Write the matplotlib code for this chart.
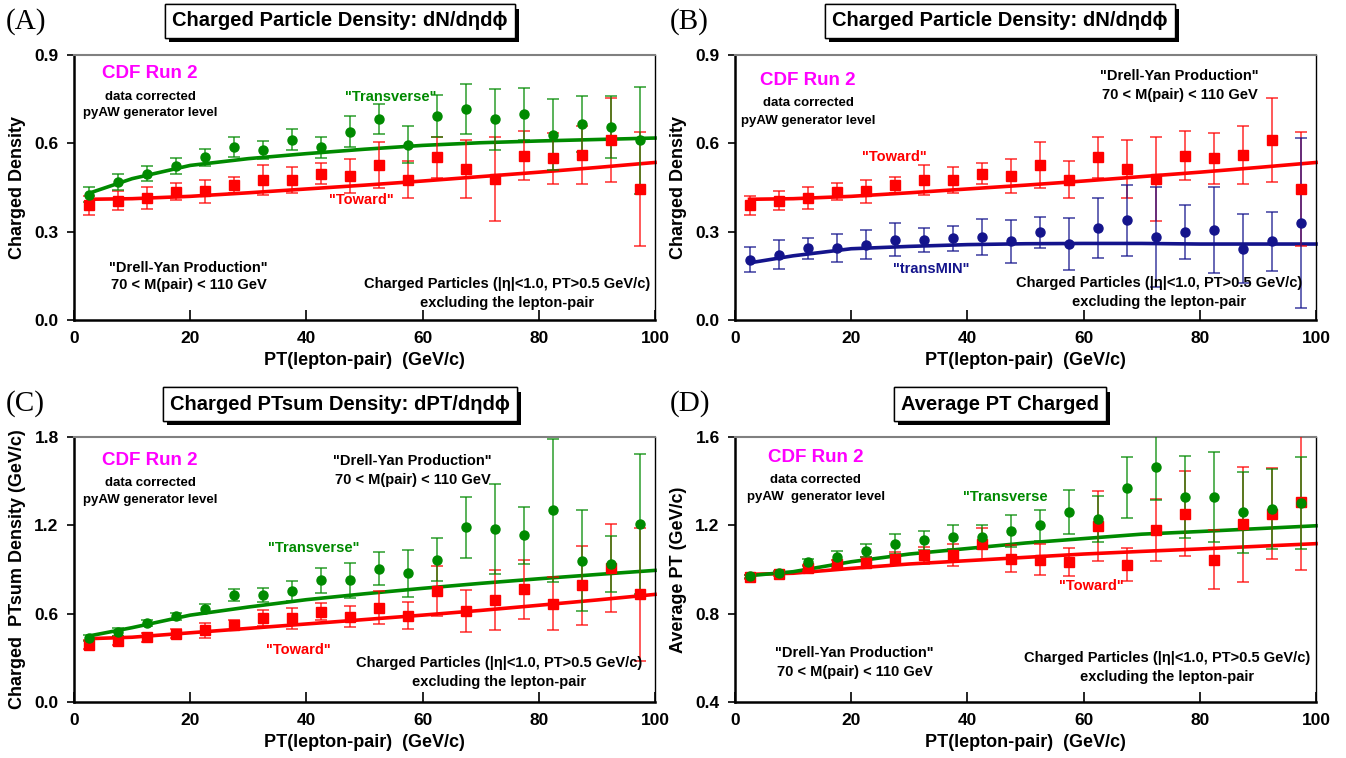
import numpy as np
import matplotlib.pyplot as plt
import matplotlib.patheffects as pe

# lepton-pair PT bin centres (GeV/c)
pt = [2.5, 7.5, 12.5, 17.5, 22.5, 27.5, 32.5, 37.5, 42.5, 47.5,
      52.5, 57.5, 62.5, 67.5, 72.5, 77.5, 82.5, 87.5, 92.5, 97.5]
# x positions of the generator curves
curve_x = [2.5, 10, 20, 30, 40, 50, 60, 70, 80, 90, 100]

# (A) charged density
densA_trans = [0.426, 0.469, 0.497, 0.522, 0.552, 0.588, 0.578, 0.613, 0.586, 0.640,
               0.682, 0.596, 0.693, 0.716, 0.682, 0.700, 0.629, 0.667, 0.655, 0.610]
densA_trans_err = [0.025, 0.027, 0.025, 0.027, 0.030, 0.033, 0.030, 0.035, 0.037, 0.052,
                   0.052, 0.062, 0.070, 0.086, 0.103, 0.087, 0.120, 0.095, 0.105, 0.183]
dens_toward = [0.389, 0.405, 0.414, 0.435, 0.437, 0.459, 0.476, 0.474, 0.497, 0.488,
               0.526, 0.476, 0.552, 0.514, 0.478, 0.558, 0.549, 0.561, 0.612, 0.445]
dens_toward_err = [0.031, 0.033, 0.038, 0.029, 0.040, 0.028, 0.052, 0.044, 0.036, 0.058,
                   0.078, 0.063, 0.071, 0.098, 0.142, 0.083, 0.087, 0.098, 0.143, 0.192]
densA_trans_curve = [0.430, 0.480, 0.525, 0.548, 0.565, 0.580, 0.593, 0.602, 0.608, 0.613, 0.618]
dens_toward_curve = [0.410, 0.412, 0.420, 0.432, 0.445, 0.458, 0.472, 0.487, 0.502, 0.518, 0.535]

# (B) transMIN density
densB_min = [0.205, 0.222, 0.243, 0.245, 0.256, 0.272, 0.272, 0.277, 0.282, 0.268,
             0.298, 0.259, 0.313, 0.339, 0.281, 0.299, 0.304, 0.242, 0.268, 0.330]
densB_min_err = [0.042, 0.048, 0.037, 0.047, 0.048, 0.056, 0.042, 0.043, 0.062, 0.073,
                 0.053, 0.089, 0.103, 0.120, 0.170, 0.092, 0.146, 0.118, 0.100, 0.288]
densB_min_curve = [0.194, 0.218, 0.242, 0.250, 0.256, 0.259, 0.260, 0.260, 0.258, 0.258, 0.258]

# (C) PTsum density
ptsum_trans = [0.434, 0.475, 0.538, 0.582, 0.634, 0.729, 0.729, 0.752, 0.826, 0.826,
               0.906, 0.874, 0.967, 1.186, 1.175, 1.132, 1.302, 0.960, 0.937, 1.211]
ptsum_trans_err = [0.020, 0.025, 0.022, 0.025, 0.032, 0.040, 0.047, 0.068, 0.085, 0.120,
                   0.110, 0.158, 0.145, 0.206, 0.305, 0.192, 0.487, 0.343, 0.188, 0.476]
ptsum_toward = [0.389, 0.417, 0.439, 0.464, 0.487, 0.521, 0.569, 0.569, 0.614, 0.580,
                0.641, 0.586, 0.752, 0.618, 0.695, 0.765, 0.668, 0.792, 0.912, 0.731]
ptsum_toward_err = [0.030, 0.030, 0.030, 0.030, 0.050, 0.035, 0.055, 0.070, 0.060, 0.070,
                    0.110, 0.090, 0.170, 0.144, 0.204, 0.200, 0.180, 0.270, 0.300, 0.450]
ptsum_trans_curve = [0.448, 0.505, 0.590, 0.645, 0.695, 0.735, 0.772, 0.806, 0.837, 0.866, 0.894]
ptsum_toward_curve = [0.430, 0.440, 0.470, 0.500, 0.530, 0.560, 0.590, 0.622, 0.657, 0.693, 0.731]

# (D) average PT
avg_trans = [0.969, 0.986, 1.033, 1.055, 1.085, 1.117, 1.132, 1.147, 1.147, 1.176,
             1.200, 1.260, 1.229, 1.371, 1.464, 1.327, 1.327, 1.259, 1.274, 1.301]
avg_trans_err = [0.008, 0.008, 0.015, 0.030, 0.030, 0.045, 0.042, 0.053, 0.053, 0.072,
                 0.071, 0.100, 0.103, 0.138, 0.151, 0.186, 0.204, 0.183, 0.182, 0.210]
avg_toward = [0.965, 0.979, 1.007, 1.025, 1.031, 1.049, 1.064, 1.064, 1.117, 1.049,
              1.044, 1.034, 1.197, 1.022, 1.180, 1.253, 1.044, 1.205, 1.253, 1.306]
avg_toward_err = [0.008, 0.008, 0.012, 0.020, 0.025, 0.030, 0.040, 0.050, 0.073, 0.060,
                  0.070, 0.065, 0.157, 0.074, 0.140, 0.193, 0.134, 0.260, 0.206, 0.310]
avg_trans_curve = [0.972, 0.990, 1.035, 1.070, 1.095, 1.120, 1.140, 1.160, 1.172, 1.185, 1.198]
avg_toward_curve = [0.978, 0.983, 1.005, 1.025, 1.040, 1.055, 1.070, 1.082, 1.093, 1.105, 1.117]

GREEN = '#008a00'
RED = '#ff0000'
NAVY = '#14148c'
MAGENTA = '#ff00ff'

plt.rcParams['font.family'] = ['Liberation Sans', 'DejaVu Sans']
plt.rcParams['font.weight'] = 'bold'

fig = plt.figure(figsize=(13.46, 7.58), dpi=100)

W, H = 1346.0, 758.0
def make_axes(x0, y_top):
    return fig.add_axes([x0 / W, 1 - (y_top + 265) / H, 581 / W, 265 / H])

axA = make_axes(74, 55)
axB = make_axes(735, 55)
axC = make_axes(74, 437)
axD = make_axes(735, 437)


def style(ax, ylim, yticks, ylabel, yfmt):
    ax.set_xlim(0, 100)
    ax.set_ylim(*ylim)
    ax.set_xticks([0, 20, 40, 60, 80, 100])
    ax.set_yticks(yticks)
    ax.set_yticklabels([yfmt % v for v in yticks])
    ax.tick_params(axis='x', direction='in', length=7, width=1.2, labelsize=12.5, pad=8)
    ax.tick_params(axis='y', direction='out', length=5, width=1.2, labelsize=12.5, pad=6)
    for lab in ax.get_xticklabels() + ax.get_yticklabels():
        lab.set_fontweight('bold')
    ax.spines['left'].set_linewidth(1.8)
    ax.spines['bottom'].set_linewidth(1.8)
    ax.spines['top'].set_color('#808080')
    ax.spines['top'].set_linewidth(1.5)
    ax.spines['right'].set_linewidth(1.0)
    ax.set_xlabel('PT(lepton-pair)  (GeV/c)', fontsize=13, fontweight='bold', labelpad=4)
    ax.set_ylabel(ylabel, fontsize=13, fontweight='bold', labelpad=6)


def series(ax, y, err, curve, color, marker):
    ax.plot(curve_x, curve, color=color, lw=2.6, zorder=2, clip_on=False)
    ax.errorbar(pt, y, yerr=err, fmt='none', ecolor=color, elinewidth=1.3,
                capsize=4, capthick=1.3, alpha=0.7, zorder=3)
    ax.plot(pt, y, linestyle='none', marker=marker, color=color, markersize=6.5, zorder=4)


def note(ax, x, y, s, color='black', size=10.5, ha='center'):
    ax.text(x, y, s, color=color, fontsize=size, fontweight='bold', ha=ha, va='center')


def title_box(x, y, s):
    t = fig.text(x / W, 1 - y / H, s, fontsize=14.5, fontweight='bold', ha='center', va='center',
                 bbox=dict(boxstyle='square,pad=0.35', fc='white', ec='black', lw=1.0))
    t.get_bbox_patch().set_path_effects([
        pe.withSimplePatchShadow(offset=(3, -3), shadow_rgbFace='black', alpha=1.0),
        pe.Normal()])


def panel_label(x, y, s):
    fig.text(x / W, 1 - y / H, s, fontsize=21, family=['Liberation Serif', 'DejaVu Serif'],
             fontweight='normal', ha='left', va='center')


# (A)
series(axA, dens_toward, dens_toward_err, dens_toward_curve, RED, 's')
series(axA, densA_trans, densA_trans_err, densA_trans_curve, GREEN, 'o')
style(axA, (0, 0.9), [0.0, 0.3, 0.6, 0.9], 'Charged Density', '%.1f')
note(axA, 13.1, 0.838, 'CDF Run 2', MAGENTA, 13.5)
note(axA, 13.1, 0.759, 'data corrected', size=9.5)
note(axA, 13.1, 0.702, 'pyAW generator level', size=9.5)
note(axA, 54.6, 0.756, '"Transverse"', GREEN, 10.5)
note(axA, 49.5, 0.406, '"Toward"', RED, 10.5)
note(axA, 19.7, 0.177, '"Drell-Yan Production"')
note(axA, 19.7, 0.119, '70 < M(pair) < 110 GeV')
note(axA, 74.5, 0.123, 'Charged Particles (|η|<1.0, PT>0.5 GeV/c)')
note(axA, 74.5, 0.059, 'excluding the lepton-pair')

# (B)
series(axB, dens_toward, dens_toward_err, dens_toward_curve, RED, 's')
series(axB, densB_min, densB_min_err, densB_min_curve, NAVY, 'o')
style(axB, (0, 0.9), [0.0, 0.3, 0.6, 0.9], 'Charged Density', '%.1f')
note(axB, 12.6, 0.812, 'CDF Run 2', MAGENTA, 13.5)
note(axB, 12.6, 0.736, 'data corrected', size=9.5)
note(axB, 12.6, 0.676, 'pyAW generator level', size=9.5)
note(axB, 76.5, 0.830, '"Drell-Yan Production"')
note(axB, 76.5, 0.764, '70 < M(pair) < 110 GeV')
note(axB, 27.4, 0.552, '"Toward"', RED, 10.5)
note(axB, 33.8, 0.174, '"transMIN"', NAVY, 10.5)
note(axB, 73.0, 0.126, 'Charged Particles (|η|<1.0, PT>0.5 GeV/c)')
note(axB, 73.0, 0.062, 'excluding the lepton-pair')

# (C)
series(axC, ptsum_toward, ptsum_toward_err, ptsum_toward_curve, RED, 's')
series(axC, ptsum_trans, ptsum_trans_err, ptsum_trans_curve, GREEN, 'o')
style(axC, (0, 1.8), [0.0, 0.6, 1.2, 1.8], 'Charged  PTsum Density (GeV/c)', '%.1f')
note(axC, 13.1, 1.641, 'CDF Run 2', MAGENTA, 13.5)
note(axC, 13.1, 1.490, 'data corrected', size=9.5)
note(axC, 13.1, 1.374, 'pyAW generator level', size=9.5)
note(axC, 58.3, 1.635, '"Drell-Yan Production"')
note(axC, 58.3, 1.506, '70 < M(pair) < 110 GeV')
note(axC, 41.2, 1.046, '"Transverse"', GREEN, 10.5)
note(axC, 38.7, 0.355, '"Toward"', RED, 10.5)
note(axC, 73.2, 0.265, 'Charged Particles (|η|<1.0, PT>0.5 GeV/c)')
note(axC, 73.2, 0.136, 'excluding the lepton-pair')

# (D)
series(axD, avg_toward, avg_toward_err, avg_toward_curve, RED, 's')
series(axD, avg_trans, avg_trans_err, avg_trans_curve, GREEN, 'o')
style(axD, (0.4, 1.6), [0.4, 0.8, 1.2, 1.6], 'Average PT (GeV/c)', '%.1f')
note(axD, 13.9, 1.509, 'CDF Run 2', MAGENTA, 13.5)
note(axD, 13.9, 1.407, 'data corrected', size=9.5)
note(axD, 13.9, 1.328, 'pyAW  generator level', size=9.5)
note(axD, 46.5, 1.328, '"Transverse', GREEN, 10.5)
note(axD, 61.3, 0.925, '"Toward"', RED, 10.5)
note(axD, 20.6, 0.622, '"Drell-Yan Production"')
note(axD, 20.6, 0.534, '70 < M(pair) < 110 GeV')
note(axD, 74.3, 0.599, 'Charged Particles (|η|<1.0, PT>0.5 GeV/c)')
note(axD, 74.3, 0.513, 'excluding the lepton-pair')

title_box(340, 21, 'Charged Particle Density: dN/dηdϕ')
title_box(1000, 21, 'Charged Particle Density: dN/dηdϕ')
title_box(340, 404, 'Charged PTsum Density: dPT/dηdϕ')
title_box(1000, 404, 'Average PT Charged')

panel_label(6, 22, '(A)')
panel_label(670, 22, '(B)')
panel_label(6, 404, '(C)')
panel_label(670, 404, '(D)')

plt.savefig('out.png', dpi=100)
